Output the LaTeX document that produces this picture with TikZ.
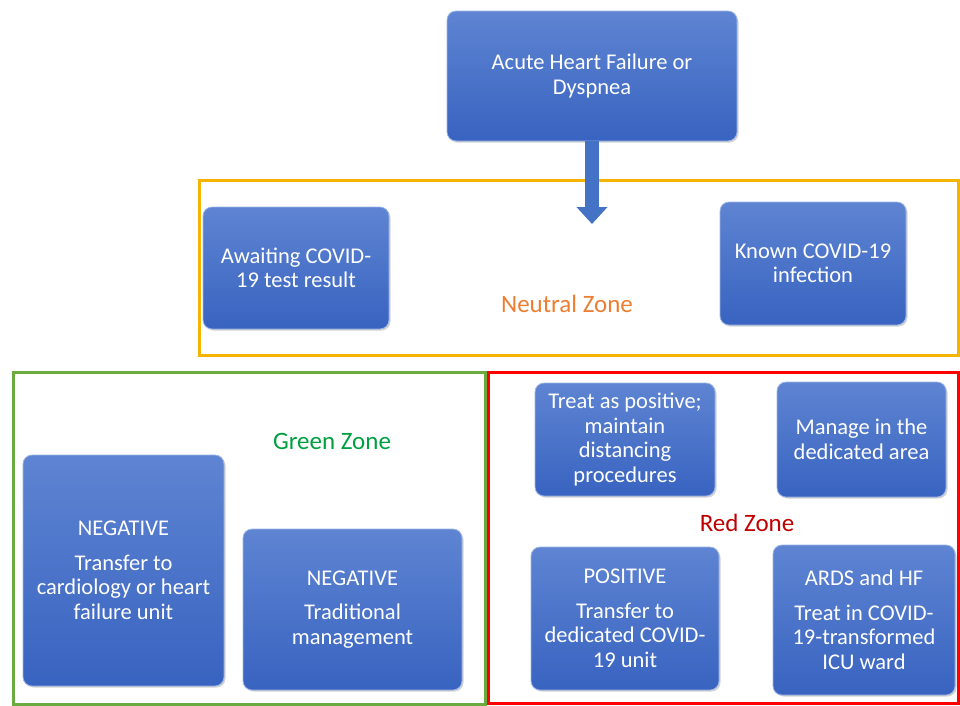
\documentclass[tikz,border=0pt]{standalone}
\usepackage{fontspec}
\setmainfont{Carlito}
\usetikzlibrary{arrows.meta,shadows}
\definecolor{boxtop}{HTML}{5E84D2}
\definecolor{boxbot}{HTML}{3863C0}
\definecolor{boxedge}{HTML}{9DB5E6}
\definecolor{arrowblue}{HTML}{4472C4}
\definecolor{yellowzone}{HTML}{F5B400}
\definecolor{greenzone}{HTML}{6BAA3E}
\definecolor{redzone}{HTML}{FF0000}
\definecolor{neutraltext}{HTML}{ED7D31}
\definecolor{greentext}{HTML}{00A040}
\definecolor{redtext}{HTML}{C00000}
\tikzset{
  box/.style={rounded corners=9pt, top color=boxtop, bottom color=boxbot, draw=boxedge, line width=0.8pt,
    text=white, align=center, font=\fontsize{22.5}{24.5}\selectfont, inner sep=2pt,
    drop shadow={shadow xshift=1.5pt, shadow yshift=-1.5pt, opacity=0.35}},
  zone/.style={line width=3pt, fill=none, inner sep=0pt},
  zonelabel/.style={font=\fontsize{25}{28}\selectfont},
}
\begin{document}
\begin{tikzpicture}[x=1pt,y=-1pt]
\useasboundingbox (0,0) rectangle (960,705);
% zones
\node[zone, draw=yellowzone, minimum width=759pt, minimum height=175pt] (neutral) at (578.5,267.5) {};
\node[zone, draw=greenzone, minimum width=472pt, minimum height=332pt] (green) at (249,538) {};
\node[zone, draw=redzone, minimum width=470pt, minimum height=331pt] (red) at (723,537.5) {};
% zone labels
\node[zonelabel, text=neutraltext] (neutrallabel) at (567,304) {Neutral Zone};
\node[zonelabel, text=greentext] (greenlabel) at (332,441) {Green Zone};
\node[zonelabel, text=redtext] (redlabel) at (747,523) {Red Zone};
% top box
\node[box, minimum width=290pt, minimum height=130pt] (top) at (592,76) {Acute Heart Failure or\\Dyspnea};
\coordinate (tip) at (592,224);
\draw[arrowblue, line width=14pt, -{Triangle[length=17pt,width=30pt]}] (top.south) -- (tip);
% neutral zone boxes
\node[box, minimum width=186pt, minimum height=122pt] (await) at (296,268) {Awaiting COVID-\\19 test result};
\node[box, minimum width=186pt, minimum height=123pt] (known) at (813,263.5) {Known COVID-19\\infection};
% green zone boxes
\node[box, minimum width=201pt, minimum height=231pt] (neg1) at (123.5,570.5) {NEGATIVE\\[10pt]Transfer to\\cardiology or heart\\failure unit};
\node[box, minimum width=219pt, minimum height=161pt] (neg2) at (352.5,609.5) {NEGATIVE\\[10pt]Traditional\\management};
% red zone boxes
\node[box, minimum width=180pt, minimum height=113pt] (treat) at (625,439.5) {Treat as positive;\\maintain\\distancing\\procedures};
\node[box, minimum width=169pt, minimum height=115pt] (manage) at (861.5,439.5) {Manage in the\\dedicated area};
\node[box, minimum width=188pt, minimum height=143pt] (pos) at (625,618.5) {POSITIVE\\[10pt]Transfer to\\dedicated COVID-\\19 unit};
\node[box, minimum width=182pt, minimum height=150pt] (ards) at (864,620) {ARDS and HF\\[10pt]Treat in COVID-\\19-transformed\\ICU ward};
\end{tikzpicture}
\end{document}
